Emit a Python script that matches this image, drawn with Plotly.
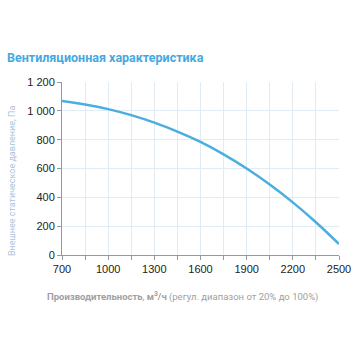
import plotly.graph_objects as go

flow = [700, 850, 1000, 1150, 1300, 1450, 1600, 1750, 1900, 2050, 2200, 2350, 2500]
pressure = [1068, 1044, 1012, 970, 918, 856, 784, 698, 600, 489, 365, 227, 76]

x_ticks = [700, 1000, 1300, 1600, 1900, 2200, 2500]
y_ticks = [0, 200, 400, 600, 800, 1000, 1200]
y_labels = ["0", "200", "400", "600", "800", "1 000", "1 200"]
x_minor = list(range(700, 2501, 150))

fig = go.Figure()
fig.add_trace(go.Scatter(x=flow, y=pressure, mode="lines",
                         line=dict(color="#4aaee0", width=2.5, shape="spline", smoothing=1.0)))

fig.update_layout(
    width=356, height=356,
    margin=dict(l=62, r=17, t=82, b=101),
    paper_bgcolor="white", plot_bgcolor="white",
    showlegend=False,
    font=dict(family="Liberation Sans, Arial", size=11, color="#222"),
)
fig.update_xaxes(
    range=[700, 2500], tickvals=x_minor,
    ticktext=[str(v) if v in x_ticks else "" for v in x_minor],
    showgrid=True, gridcolor="#e1ebf4", gridwidth=1,
    showline=True, linecolor="#999", linewidth=1,
    ticks="outside", ticklen=4, tickcolor="#999",
    tickfont=dict(size=11, color="#222"), zeroline=False, automargin=False,
)
fig.update_yaxes(
    range=[0, 1200], tickvals=y_ticks, ticktext=y_labels,
    showgrid=True, gridcolor="#e1ebf4", gridwidth=1,
    showline=True, linecolor="#999", linewidth=1,
    ticks="outside", ticklen=4, tickcolor="#999",
    tickfont=dict(size=11, color="#222"), zeroline=False, automargin=False,
)
fig.add_annotation(
    text="<b>Вентиляционная характеристика</b>", xref="paper", yref="paper",
    x=(5-62)/277, y=(255-57)/173, showarrow=False,
    xanchor="left", yanchor="middle",
    font=dict(family="Roboto, Noto Sans", size=12.5, color="#45a8df"),
)
fig.add_annotation(
    text="Внешнее статическое давление, Па", xref="paper", yref="paper",
    x=(12-62)/277, y=(255-181)/173, showarrow=False, textangle=-90,
    xanchor="center", yanchor="middle",
    font=dict(family="Roboto, Noto Sans", size=9, color="#a9c3da"),
)
fig.add_annotation(
    text="<b>Производительность</b>, <b>м<sup>3</sup>/ч</b> (регул. диапазон от 20% до 100%)",
    xref="paper", yref="paper",
    x=(182-62)/277, y=-(296-255)/173, showarrow=False,
    xanchor="center", yanchor="middle",
    font=dict(family="Roboto, Noto Sans", size=9.5, color="#a0a0a0"),
)
fig.write_html("out.html", config={"displayModeBar": False},
               post_script="document.body.style.margin='0px';")
